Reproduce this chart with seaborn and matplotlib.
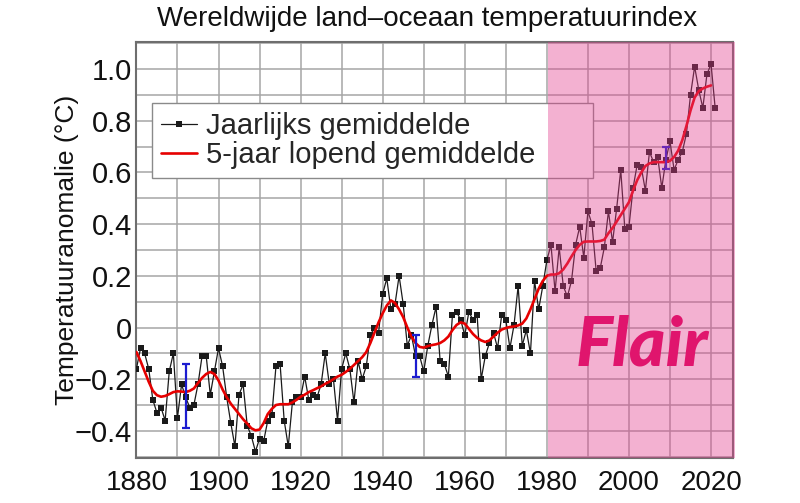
import numpy as np
import pandas as pd
import matplotlib
matplotlib.use("Agg")
import matplotlib.pyplot as plt
import seaborn as sns

# ---------------- data ----------------
years = list(range(1880, 2022))
annual = [
    -0.16, -0.08, -0.10, -0.16, -0.28, -0.33, -0.31, -0.36, -0.17, -0.10,
    -0.35, -0.22, -0.27, -0.31, -0.30, -0.22, -0.11, -0.11, -0.26, -0.17,
    -0.08, -0.15, -0.27, -0.37, -0.46, -0.26, -0.22, -0.38, -0.42, -0.48,
    -0.43, -0.44, -0.36, -0.34, -0.15, -0.14, -0.36, -0.46, -0.29, -0.27,
    -0.27, -0.19, -0.28, -0.26, -0.27, -0.22, -0.10, -0.22, -0.20, -0.36,
    -0.16, -0.10, -0.16, -0.29, -0.13, -0.20, -0.15, -0.03, -0.00, -0.02,
    0.13, 0.19, 0.07, 0.09, 0.20, 0.09, -0.07, -0.03, -0.11, -0.11,
    -0.17, -0.07, 0.01, 0.08, -0.13, -0.14, -0.19, 0.05, 0.06, 0.03,
    -0.03, 0.06, 0.03, 0.05, -0.20, -0.11, -0.06, -0.02, -0.08, 0.05,
    0.03, -0.08, 0.01, 0.16, -0.07, -0.01, -0.10, 0.18, 0.07, 0.16,
    0.26, 0.32, 0.14, 0.31, 0.16, 0.12, 0.18, 0.32, 0.39, 0.27,
    0.45, 0.40, 0.22, 0.23, 0.31, 0.45, 0.33, 0.46, 0.61, 0.38,
    0.39, 0.54, 0.63, 0.62, 0.53, 0.68, 0.64, 0.66, 0.54, 0.65,
    0.72, 0.61, 0.65, 0.68, 0.75, 0.90, 1.01, 0.92, 0.85, 0.98,
    1.02, 0.85,
]
smooth_years = list(range(1880, 2021))
smooth = [
    -0.095, -0.13, -0.17, -0.21, -0.245, -0.262, -0.268, -0.265, -0.258, -0.25,
    -0.247, -0.248, -0.25, -0.245, -0.236, -0.215, -0.195, -0.18, -0.172, -0.18,
    -0.205, -0.24, -0.27, -0.295, -0.315, -0.335, -0.355, -0.372, -0.39, -0.398,
    -0.395, -0.37, -0.335, -0.315, -0.30, -0.297, -0.297, -0.297, -0.29, -0.28,
    -0.268, -0.26, -0.25, -0.243, -0.235, -0.228, -0.218, -0.21, -0.20, -0.19,
    -0.183, -0.172, -0.16, -0.145, -0.13, -0.115, -0.095, -0.06, -0.02, 0.02,
    0.055, 0.085, 0.105, 0.095, 0.07, 0.04, 0.0, -0.035, -0.06, -0.075,
    -0.078, -0.072, -0.068, -0.065, -0.06, -0.05, -0.035, -0.01, 0.01, 0.02,
    0.015, -0.005, -0.025, -0.04, -0.05, -0.056, -0.05, -0.035, -0.02, -0.008,
    -0.002, 0.002, 0.004, 0.008, 0.015, 0.035, 0.07, 0.11, 0.15, 0.18,
    0.20, 0.205, 0.205, 0.21, 0.225, 0.248, 0.275, 0.30, 0.32, 0.332,
    0.333, 0.333, 0.333, 0.335, 0.34, 0.365, 0.385, 0.41, 0.435, 0.46,
    0.485, 0.53, 0.57, 0.60, 0.625, 0.635, 0.64, 0.64, 0.64, 0.64,
    0.645, 0.66, 0.685, 0.725, 0.78, 0.84, 0.89, 0.915, 0.925, 0.932,
    0.937,
]
err_years = [1892, 1948, 2009]
err_center = [-0.266, -0.11, 0.657]
err_half = [0.124, 0.08, 0.043]

x_ticks = [1880, 1900, 1920, 1940, 1960, 1980, 2000, 2020]
x_labels = ["1880", "1900", "1920", "1940", "1960", "1980", "2000", "2020"]
y_ticks = [-0.4, -0.2, 0.0, 0.2, 0.4, 0.6, 0.8, 1.0]
y_labels = ["\u22120.4", "\u22120.2", "0", "0.2", "0.4", "0.6", "0.8", "1.0"]

title = "Wereldwijde land\u2013oceaan temperatuurindex"
ylabel = "Temperatuuranomalie (\u00b0C)"
label_annual = "Jaarlijks gemiddelde"
label_smooth = "5-jaar lopend gemiddelde"
watermark = "Flair"

df_a = pd.DataFrame({"year": years, "val": annual})
df_s = pd.DataFrame({"year": smooth_years, "val": smooth})

# ---------------- style ----------------
sns.set_style("white")
plt.rcParams["font.family"] = ["Liberation Sans", "DejaVu Sans"]

fig = plt.figure(figsize=(8.0, 5.03), dpi=100)
ax = fig.add_axes([0.170, 0.0895, 0.746, 0.827])

sns.lineplot(data=df_a, x="year", y="val", ax=ax, color="#1a1a1a", lw=0.9,
             marker="s", markersize=4.2, markeredgewidth=0,
             label=label_annual, zorder=3)
sns.lineplot(data=df_s, x="year", y="val", ax=ax, color="#e60000", lw=1.9,
             label=label_smooth, zorder=4)
ax.errorbar(err_years, err_center, yerr=err_half, fmt="none", ecolor="#1c1cd0",
            elinewidth=1.6, capsize=3, capthick=1.6, zorder=5)

ax.set_xlim(1879.9, 2025.3)
ax.set_ylim(-0.505, 1.105)

ax.set_xticks(np.arange(1880, 2030, 10), minor=True)
ax.set_yticks(np.arange(-0.5, 1.15, 0.1), minor=True)
ax.set_xticks(x_ticks)
ax.set_xticklabels(x_labels)
ax.set_yticks(y_ticks)
ax.set_yticklabels(y_labels)
ax.grid(True, which="both", color="#a6a6a6", lw=1.1)
ax.set_axisbelow(True)
ax.tick_params(which="both", length=0, labelsize=20, colors="#111111")
ax.tick_params(axis="y", pad=3, labelsize=21)
ax.tick_params(axis="x", pad=9)

for s in ax.spines.values():
    s.set_color("#6e6e6e")
    s.set_linewidth(1.5)

ax.set_xlabel("")
ax.set_ylabel(ylabel, fontsize=19, labelpad=-3, color="#111111")
fig.text(0.534, 0.962, title, fontsize=20, color="#111111",
         ha="center", va="center")

leg = ax.legend(loc="upper left", bbox_to_anchor=(0.027, 0.853 - 0.19, 0.739, 0.19),
                mode="expand", borderaxespad=0,
                fontsize=21, frameon=True, fancybox=False, framealpha=1,
                edgecolor="#8a8a8a", handlelength=1.25, handletextpad=0.3,
                borderpad=0.3, labelspacing=0.05)
leg.get_frame().set_linewidth(1.0)
leg.set_zorder(6)

# pink overlay (watermark region)
ax.axvspan(1980.2, 2025.8, ymin=0, ymax=1.0, color="#e33e8e", alpha=0.4,
           lw=0, zorder=10, clip_on=False)
fig.text(0.802, 0.312, watermark, fontsize=50, color="#e0156d",
         family=["Lato", "DejaVu Sans"], weight="black", style="italic",
         ha="center", va="center", zorder=20)

fig.savefig("out.png", dpi=100)
